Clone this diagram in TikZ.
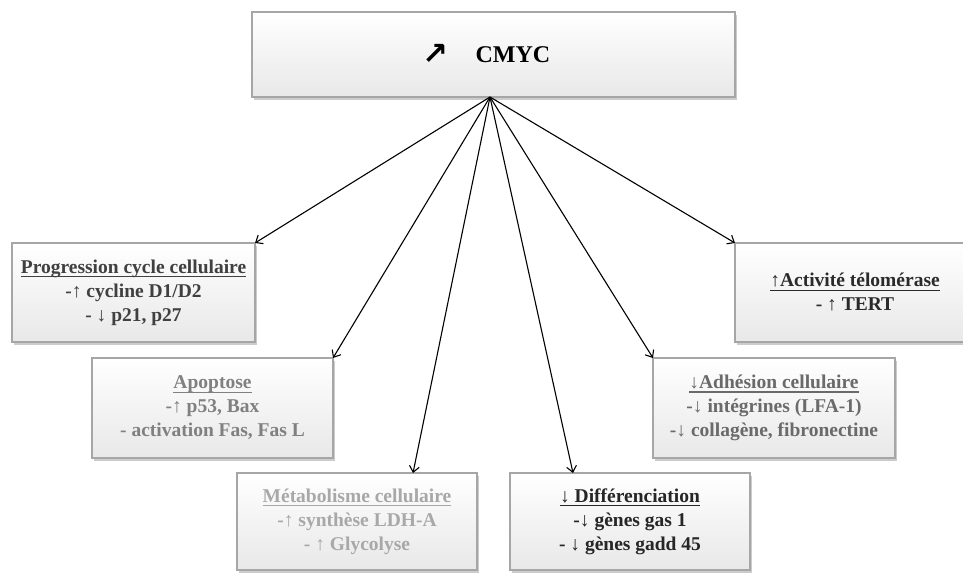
\documentclass[tikz,border=0pt]{standalone}
\usepackage{fontspec}
\setmainfont{Liberation Serif}
\newfontfamily\symfont{DejaVu Sans}
\newcommand{\ulx}[1]{\begingroup\setbox0\hbox{#1}\rlap{\rule[-4pt]{\wd0}{1.3pt}}\box0\endgroup}
\usetikzlibrary{arrows.meta,shadows}
\definecolor{tprog}{HTML}{404040}
\definecolor{tapop}{HTML}{808080}
\definecolor{tmet}{HTML}{A8A8A8}
\definecolor{tdif}{HTML}{262626}
\definecolor{tadh}{HTML}{6A6A6A}
\definecolor{tact}{HTML}{2A2A2A}
\definecolor{boxline}{HTML}{A6A6A6}
\begin{document}
\begin{tikzpicture}[x=1pt,y=-1pt,
  box/.style={rectangle, draw=boxline, line width=2.5pt, outer sep=0pt,
    top color=white, bottom color=black!9, align=center,
    font=\fontsize{19.5}{24}\selectfont\bfseries,
    drop shadow={shadow xshift=1.5pt, shadow yshift=-2.5pt, fill=black!40, opacity=0.5}},
  link/.style={line width=1.1pt, -{Straight Barb[length=6pt,width=10pt]}}]
\useasboundingbox (0,0) rectangle (963,574);
\node[box, minimum width=483pt, minimum height=85pt, font=\fontsize{24}{28}\selectfont\bfseries] (cmyc) at (493.5,54.5)
  {\raisebox{-2pt}{\symfont\bfseries\fontsize{31}{31}\selectfont ↗}\hspace{27pt}CMYC\hspace{14pt}};
\node[box, minimum width=243pt, minimum height=99pt, text=tprog] (prog) at (133.5,292.5)
  {\ulx{Progression cycle cellulaire}\\-↑ cycline D1/D2\\- ↓ p21, p27};
\node[box, minimum width=241pt, minimum height=100pt, text=tapop] (apop) at (212.5,408)
  {\ulx{Apoptose}\\-↑ p53, Bax\\- activation Fas, Fas L};
\node[box, minimum width=240pt, minimum height=97pt, text=tmet] (met) at (357,521.5)
  {\ulx{Métabolisme cellulaire}\\-↑ synthèse LDH-A\\- ↑ Glycolyse};
\node[box, minimum width=240pt, minimum height=97pt, text=tdif] (dif) at (630,521.5)
  {\ulx{↓ Différenciation}\\-↓ gènes gas 1\\- ↓ gènes gadd 45};
\node[box, minimum width=242pt, minimum height=100pt, text=tadh] (adh) at (774,408)
  {\ulx{↓Adhésion cellulaire}\\-↓ intégrines (LFA-1)\\-↓ collagène, fibronectine};
\node[box, minimum width=240pt, minimum height=99pt, text=tact] (act) at (855,292.5)
  {\ulx{↑Activité télomérase}\\- ↑ TERT};
\coordinate (src) at (490,97);
\draw[link] (src) -- (prog.north east);
\draw[link] (src) -- (apop.north east);
\draw[link] (src) -- ([xshift=56pt]met.north);
\draw[link] (src) -- ([xshift=-57pt]dif.north);
\draw[link] (src) -- (adh.north west);
\draw[link] (src) -- (act.north west);
\end{tikzpicture}
\end{document}
